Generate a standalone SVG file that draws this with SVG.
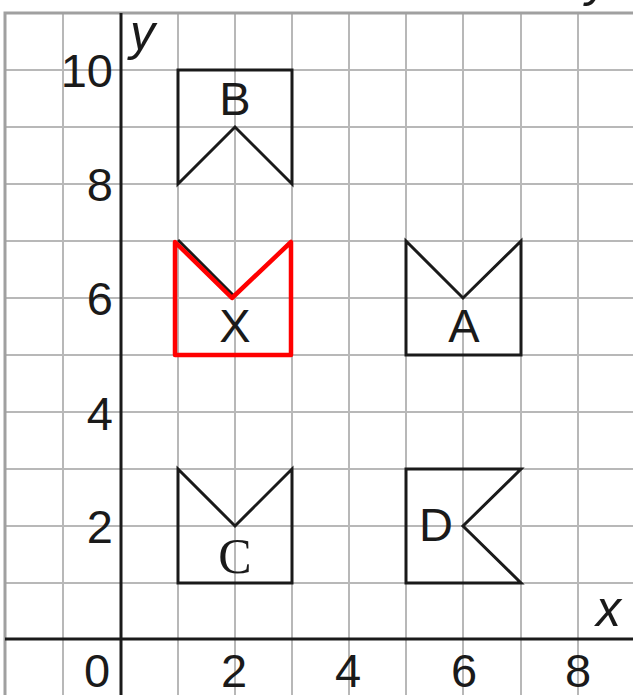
<svg xmlns="http://www.w3.org/2000/svg" width="633" height="695" viewBox="0 0 633 695">
<style>
.grid{stroke:#b8b8b8;stroke-width:2;fill:none}
.border{stroke:#a0a0a0;stroke-width:3;fill:none}
.axis{stroke:#1a1a1a;stroke-width:3;fill:none}
.shape{stroke:#1a1a1a;stroke-width:3;fill:none;stroke-linejoin:miter}
.red{stroke:#ff0000;stroke-width:4.5;fill:none;stroke-linejoin:round}
.num{font-family:"Liberation Sans",Arial,sans-serif;font-size:47px;fill:#1a1a1a}
.lbl{font-family:"Liberation Sans",Arial,sans-serif;font-size:47px;fill:#1a1a1a;text-anchor:middle}
.var{font-family:"Liberation Sans",Arial,sans-serif;font-size:50px;font-style:italic;fill:#1a1a1a}
</style>
<rect width="633" height="695" fill="#ffffff"/>
<g id="grid">
<path class="grid" d="M63,13V695M178,13V695M235,13V695M292,13V695M349,13V695M406,13V695M463,13V695M521,13V695M578,13V695"/>
<path class="grid" d="M5,70H633M5,127H633M5,184H633M5,241H633M5,298H633M5,355H633M5,412H633M5,469H633M5,526H633M5,583H633"/>
<path class="border" d="M5,695V13H633"/>
</g>
<g id="axes">
<line class="axis" x1="121" y1="13" x2="121" y2="695"/>
<line class="axis" x1="5" y1="639" x2="633" y2="639"/>
<text class="var" x="130" y="50">y</text>
<text class="var" x="596" y="626">x</text>
<text class="var" x="586" y="-4">y</text>
</g>
<g id="y-labels" class="num" text-anchor="end">
<text x="113" y="87">10</text>
<text x="113" y="201">8</text>
<text x="113" y="315">6</text>
<text x="113" y="430">4</text>
<text x="113" y="543">2</text>
</g>
<g id="x-labels" class="num" text-anchor="middle">
<text x="97" y="687">0</text>
<text x="234" y="687">2</text>
<text x="348" y="687">4</text>
<text x="464" y="687">6</text>
<text x="578" y="687">8</text>
</g>
<g id="shape-B">
<path class="shape" d="M178,184L178,70L292,70L292,184L235,127Z"/>
<text class="lbl" x="235" y="115">B</text>
</g>
<g id="shape-A">
<path class="shape" d="M406,241L463,298L521,241L521,355L406,355Z"/>
<text class="lbl" x="464" y="342">A</text>
</g>
<g id="shape-C">
<path class="shape" d="M178,469L235,526L292,469L292,583L178,583Z"/>
<text x="235" y="573" font-family="Liberation Serif,'Times New Roman',serif" font-size="50" text-anchor="middle" fill="#1a1a1a">C</text>
</g>
<g id="shape-D">
<path class="shape" d="M521,469L406,469L406,583L521,583L463,526Z"/>
<text class="lbl" x="436" y="541">D</text>
</g>
<g id="shape-X">
<line class="shape" x1="178" y1="240" x2="234" y2="296"/>
<path class="red" d="M175,242L232,298L291,242L291,355L175,355Z"/>
<text class="lbl" x="235" y="342">X</text>
</g>
</svg>
